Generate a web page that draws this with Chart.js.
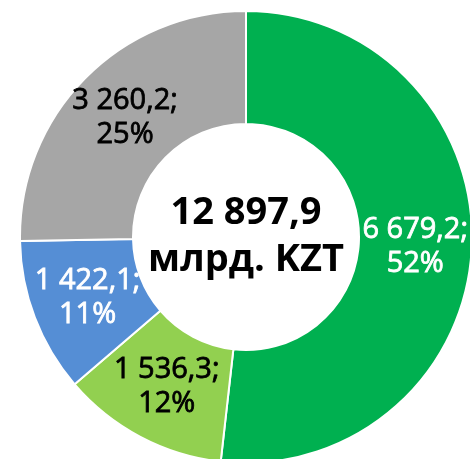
<!DOCTYPE html>
<html>
<head>
<meta charset="utf-8">
<script src="https://cdn.jsdelivr.net/npm/chart.js@4"></script>
<style>
  html, body { margin: 0; padding: 0; background: #fff; overflow: hidden; width: 470px; height: 459px; }
  #wrap { position: absolute; left: 19px; top: 10px; width: 454px; height: 454px; }
</style>
</head>
<body>
<div id="wrap"><canvas id="donut" width="454" height="454"></canvas></div>
<script>
const categories = ['A', 'B', 'C', 'D'];
const values = [6679.2, 1536.3, 1422.1, 3260.2];
const colors = ['#00B050', '#92D050', '#558ED5', '#A6A6A6'];
const labelColors = ['#ffffff', '#000000', '#ffffff', '#000000'];
const totalValue = 12897.9;
const totalUnit = 'млрд. KZT';

function fmt(v) {
  let parts = v.toFixed(1).split('.');
  let intPart = parts[0].replace(/\B(?=(\d{3})+(?!\d))/g, ' ');
  return intPart + ',' + parts[1];
}

const sliceLabels = {
  id: 'sliceLabels',
  afterDatasetsDraw(chart) {
    const ctx = chart.ctx;
    const meta = chart.getDatasetMeta(0);
    ctx.save();
    ctx.font = '29px "Open Sans"';
    ctx.textAlign = 'center';
    ctx.textBaseline = 'middle';
    ctx.lineWidth = 0.8;
    meta.data.forEach((arc, i) => {
      const p = arc.tooltipPosition();
      const l1 = fmt(values[i]) + ';';
      const l2 = Math.round(values[i] / totalValue * 100) + '%';
      ctx.fillStyle = labelColors[i];
      ctx.strokeStyle = labelColors[i];
      ctx.fillText(l1, p.x, p.y - 17);
      ctx.strokeText(l1, p.x, p.y - 17);
      ctx.fillText(l2, p.x, p.y + 17);
      ctx.strokeText(l2, p.x, p.y + 17);
    });
    // center total
    const c = meta.data[0];
    ctx.fillStyle = '#000000';
    ctx.font = 'bold 38px "Open Sans"';
    ctx.fillText(fmt(totalValue), c.x, c.y - 24);
    ctx.fillText(totalUnit, c.x, c.y + 23);
    ctx.restore();
  }
};

let ctx = document.getElementById('donut');
let myChart = new Chart(ctx, {
  type: 'doughnut',
  data: {
    labels: categories,
    datasets: [{
      data: values,
      backgroundColor: colors,
      borderColor: '#ffffff',
      borderWidth: 2
    }]
  },
  options: {
    responsive: false,
    animation: false,
    cutout: '50%',
    plugins: {
      legend: { display: false },
      tooltip: { enabled: false }
    }
  },
  plugins: [sliceLabels]
});
</script>
</body>
</html>
